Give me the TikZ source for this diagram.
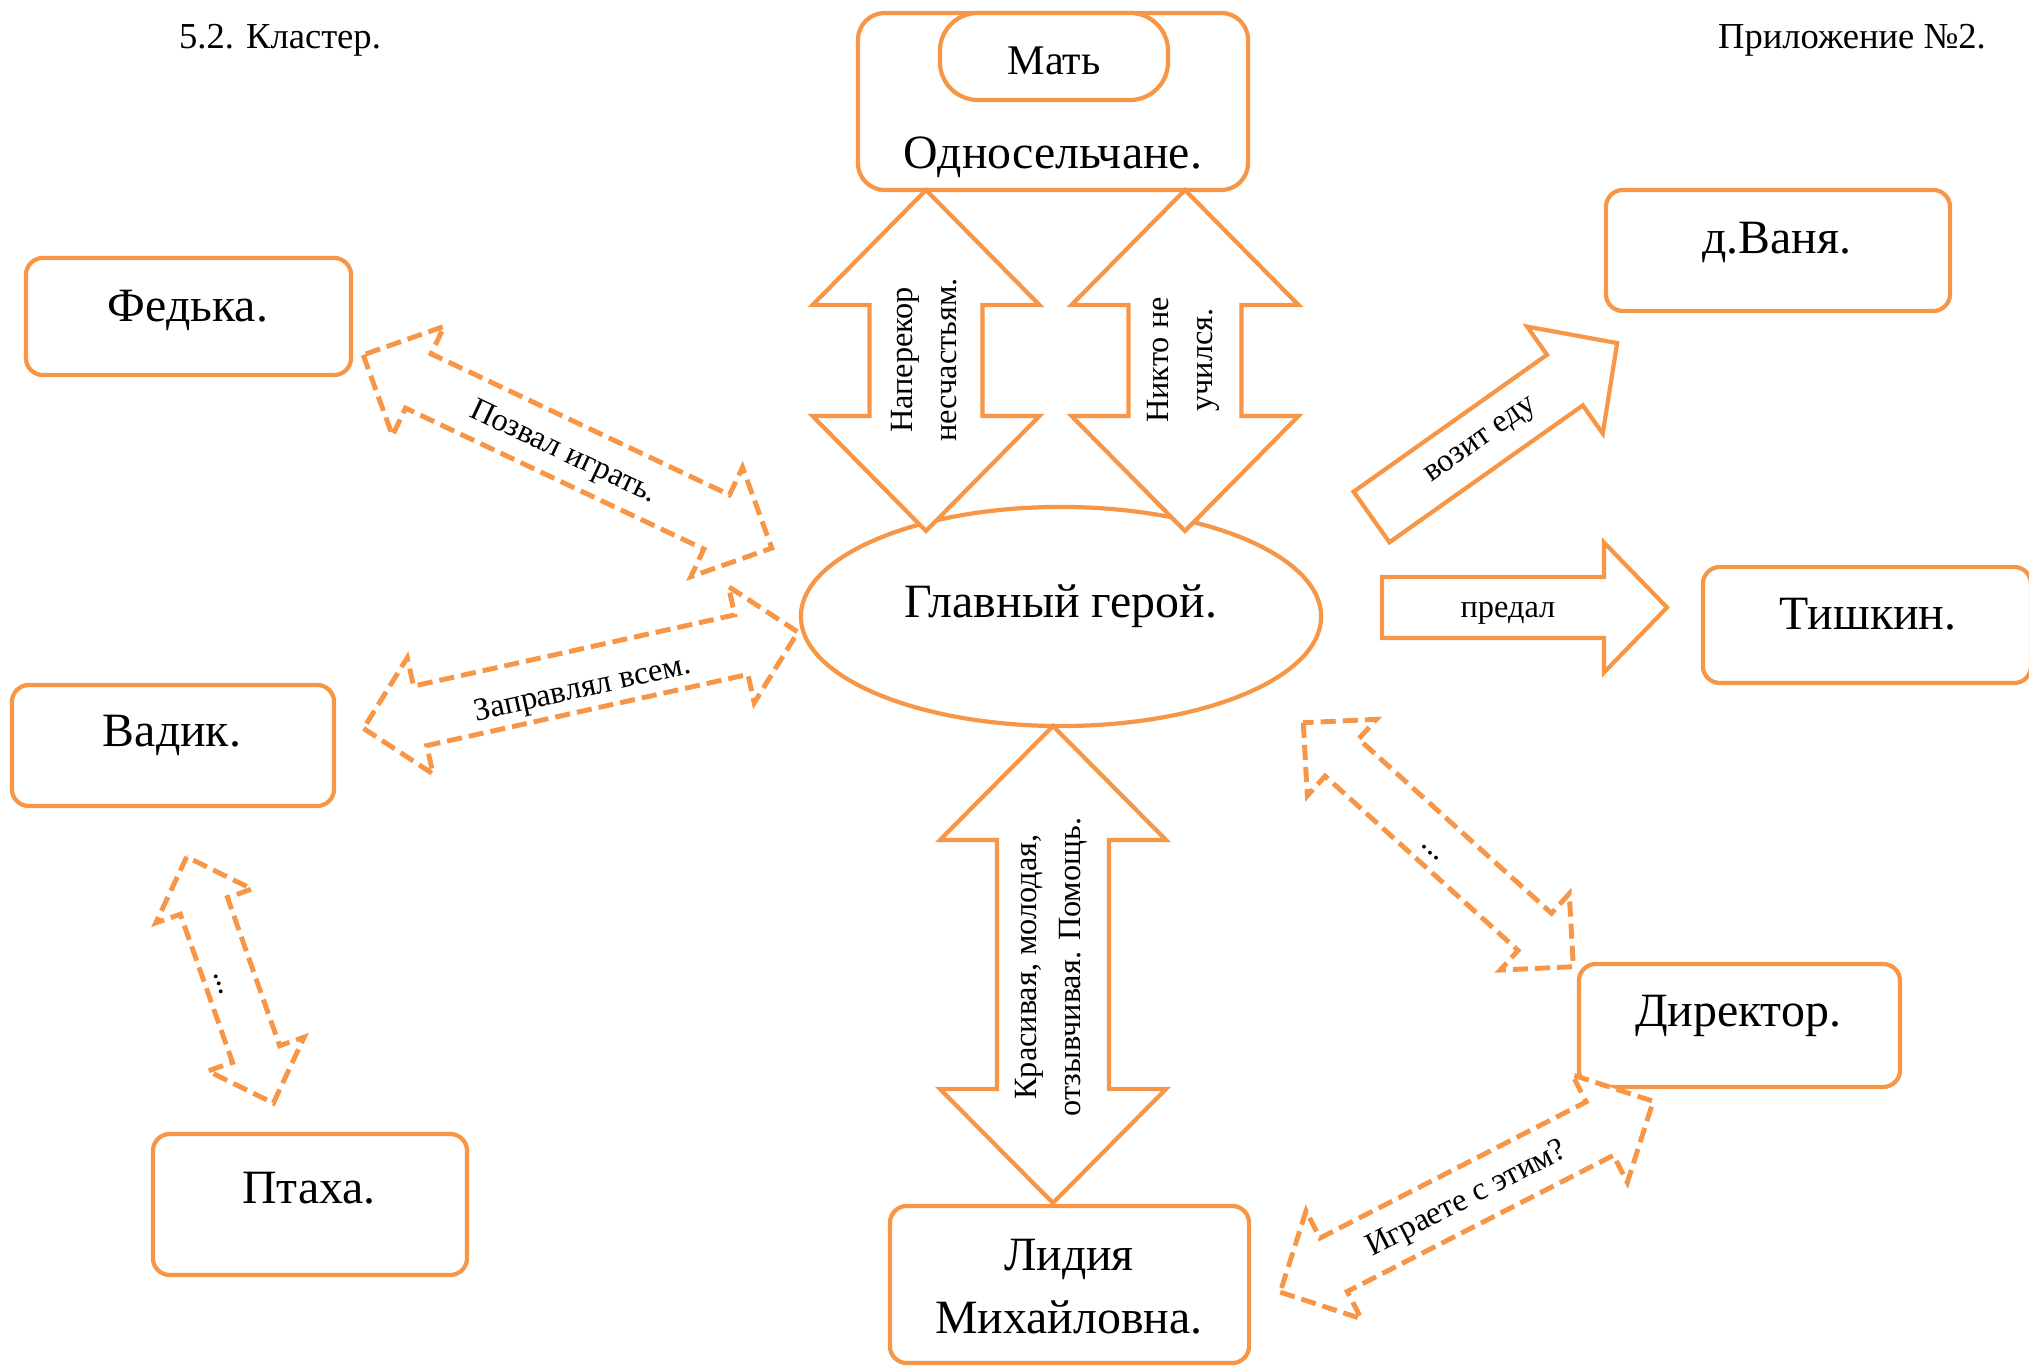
\documentclass[tikz,border=0pt]{standalone}
\usepackage{fontspec}
\setmainfont{Liberation Serif}
\usetikzlibrary{shapes.geometric}
\definecolor{acc}{HTML}{F79646}
% double block arrow: cx cy angle length shaftwidth headwidth headlength style
\newcommand{\dblarr}[8]{%
\begin{scope}[shift={(#1,#2)}, rotate=#3]
\draw[#8] ({-#4/2},0) -- ({-#4/2+#7},{#6/2}) -- ({-#4/2+#7},{#5/2}) -- ({#4/2-#7},{#5/2}) -- ({#4/2-#7},{#6/2}) -- ({#4/2},0) -- ({#4/2-#7},{-#6/2}) -- ({#4/2-#7},{-#5/2}) -- ({-#4/2+#7},{-#5/2}) -- ({-#4/2+#7},{-#6/2}) -- cycle;
\end{scope}}
% single block arrow: tailx taily angle length shaftwidth headwidth headlength style
\newcommand{\sglarr}[8]{%
\begin{scope}[shift={(#1,#2)}, rotate=#3]
\draw[#8] (0,{-#5/2}) -- (0,{#5/2}) -- ({#4-#7},{#5/2}) -- ({#4-#7},{#6/2}) -- (#4,0) -- ({#4-#7},{-#6/2}) -- ({#4-#7},{-#5/2}) -- cycle;
\end{scope}}
\begin{document}
\begin{tikzpicture}[x=0.01cm, y=-0.01cm,
  box/.style={draw=acc, line width=1.2pt, rounded corners=0.17cm, fill=white, inner sep=0},
  hero/.style={draw=acc, line width=1.2pt, ellipse, fill=white, inner sep=0},
  solidarr/.style={draw=acc, line width=1.2pt, fill=white, line join=miter},
  dasharr/.style={draw=acc, line width=1.4pt, fill=white, line join=miter, dash pattern=on 4.3pt off 2pt},
  nm/.style={font=\fontsize{13.6}{16}\selectfont, inner sep=0, anchor=base},
  lbl/.style={font=\fontsize{9.2}{12.5}\selectfont, inner sep=0, align=center},
  corner/.style={font=\fontsize{10.4}{12}\selectfont, inner sep=0, anchor=base}]
\useasboundingbox (0,0) rectangle (2029,1367);

% corner texts
\node[corner] (cl) at (280,49) {5.2. Кластер.};
\node[corner] (cr) at (1852,49) {Приложение №2.};

% boxes
\node[box, rounded corners=0.27cm, minimum width=3.90cm, minimum height=1.77cm] (vil) at (1053,101.5) {};
\node[box, rounded corners=0.38cm, minimum width=2.28cm, minimum height=0.87cm] (mat) at (1054,56.5) {};
\node[box, minimum width=3.25cm, minimum height=1.17cm] (fed) at (188.5,316.5) {};
\node[box, minimum width=3.22cm, minimum height=1.21cm] (vad) at (173,745.5) {};
\node[box, minimum width=3.14cm, minimum height=1.41cm] (pt) at (310,1204.5) {};
\node[box, minimum width=3.44cm, minimum height=1.21cm] (van) at (1778,250.5) {};
\node[box, minimum width=3.28cm, minimum height=1.16cm] (tish) at (1867,625) {};
\node[box, minimum width=3.21cm, minimum height=1.23cm] (dir) at (1739.5,1025.5) {};
\node[box, minimum width=3.59cm, minimum height=1.57cm] (lid) at (1069.5,1284.5) {};
\node[hero, minimum width=5.20cm, minimum height=2.19cm] (hero) at (1061,616.5) {};

% box texts
\node[nm, font=\fontsize{12}{14}\selectfont] (matt) at (1054,75) {Мать};
\node[nm] (vilt) at (1053,169) {Односельчане.};
\node[nm] (fedt) at (188,322) {Федька.};
\node[nm] (vadt) at (172,747) {Вадик.};
\node[nm] (ptt) at (309,1203) {Птаха.};
\node[nm] (vant) at (1777,254) {д.Ваня.};
\node[nm] (tisht) at (1868,630) {Тишкин.};
\node[nm] (dirt) at (1738,1027) {Директор.};
\node[nm] (lid1) at (1069,1270) {Лидия};
\node[nm] (lid2) at (1069,1333) {Михайловна.};
\node[nm] (herot) at (1061,618) {Главный герой.};

% solid block arrows
\dblarr{926}{360.5}{90}{341}{113}{227}{115}{solidarr}
\dblarr{1185}{360.5}{90}{341}{113}{227}{115}{solidarr}
\dblarr{1053}{964.5}{90}{477}{112}{226}{114}{solidarr}
\sglarr{1371.5}{517}{35.3}{301}{62}{131}{64}{solidarr}
\sglarr{1382}{607.5}{0}{285}{61}{130}{63}{solidarr}

% dashed block arrows
\dblarr{567.5}{451.5}{-25.3}{452}{60}{121}{61}{dasharr}
\dblarr{580.75}{680.25}{12.5}{445}{61}{119}{58}{dasharr}
\dblarr{230}{980}{-70.6}{261}{50}{102}{52}{dasharr}
\dblarr{1438.3}{844.7}{-42.1}{364}{50}{103}{52}{dasharr}
\dblarr{1466.7}{1196.7}{27.1}{419}{60}{121}{60}{dasharr}

% arrow labels
\node[lbl, rotate=90] (l1) at (924,360) {Наперекор\\несчастьям.};
\node[lbl, rotate=90] (l2) at (1183,360) {Никто не\\учился.};
\node[lbl, rotate=90] (l3) at (1051,967) {Красивая, молодая,\\отзывчивая. Помощь.};
\node[lbl, rotate=35.3] (l4) at (1482,442) {возит еду};
\node[lbl] (l5) at (1508,613) {предал};
\node[lbl, rotate=-25.3] (l6) at (563,453) {Позвал играть.};
\node[lbl, rotate=12.5] (l7) at (583,690) {Заправлял всем.};
\node[lbl, rotate=27.1] (l8) at (1467,1200) {Играете с этим?};
\node[lbl, rotate=-70.6] (l9) at (219,984) {...};
\node[lbl, rotate=-42.1] (l10) at (1430,853) {...};
\end{tikzpicture}
\end{document}
